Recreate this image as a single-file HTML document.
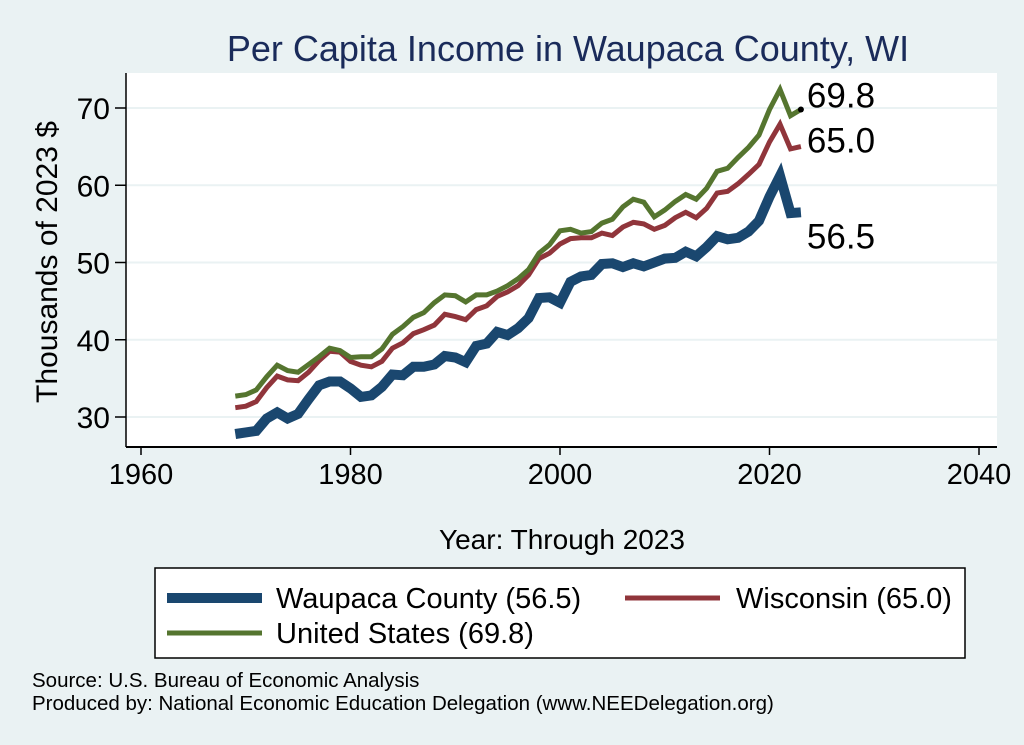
<!DOCTYPE html>
<html><head><meta charset="utf-8"><style>
body{margin:0;background:#eaf2f3;}
svg{display:block;font-family:"Liberation Sans",Arial,sans-serif;}
svg text{font-family:"Liberation Sans",Arial,sans-serif;}
</style></head><body>
<svg id="chart" width="1024" height="745" viewBox="0 0 1024 745">
<rect x="0" y="0" width="1024" height="745" fill="#eaf2f3"/>
<text x="568" y="61" text-anchor="middle" font-size="36" fill="#1a2b5a">Per Capita Income in Waupaca County, WI</text>
<rect x="126" y="73" width="871" height="374" fill="#fff"/>
<g id="grid"></g><g id="series"></g><g id="axes"></g>
<text transform="translate(57,262) rotate(-90)" text-anchor="middle" font-size="30" fill="#000">Thousands of 2023 $</text>
<text x="562" y="549" text-anchor="middle" font-size="28" fill="#000">Year: Through 2023</text>
<g>
<rect x="155" y="568" width="810" height="90" fill="#fff" stroke="#000" stroke-width="1.5"/>
<line x1="167" y1="598" x2="262" y2="598" stroke="#1a476f" stroke-width="10"/>
<text x="276" y="608" font-size="29">Waupaca County (56.5)</text>
<line x1="625" y1="598" x2="720" y2="598" stroke="#90353b" stroke-width="5"/>
<text x="736" y="608" font-size="29">Wisconsin (65.0)</text>
<line x1="167" y1="633" x2="262" y2="633" stroke="#55752f" stroke-width="5"/>
<text x="276" y="643" font-size="29">United States (69.8)</text>
</g>
<text x="32" y="687" font-size="20.5">Source: U.S. Bureau of Economic Analysis</text>
<text x="32" y="710" font-size="20.5">Produced by: National Economic Education Delegation (www.NEEDelegation.org)</text>
</svg>
<script>
const years=[];for(let y=1969;y<=2023;y++)years.push(y);
const usVals=[32.7,32.9,33.5,35.2,36.7,36.0,35.8,36.8,37.8,38.9,38.6,37.7,37.8,37.8,38.8,40.7,41.7,42.9,43.5,44.8,45.8,45.7,44.9,45.8,45.8,46.3,47.0,47.9,49.1,51.2,52.3,54.1,54.3,53.8,54.0,55.1,55.6,57.2,58.2,57.8,55.9,56.8,57.9,58.8,58.2,59.6,61.8,62.2,63.6,64.9,66.5,69.8,72.4,69.0,69.8];
const wiVals=[31.2,31.4,32.0,33.8,35.3,34.8,34.7,35.8,37.3,38.5,38.4,37.2,36.7,36.5,37.2,38.9,39.6,40.8,41.3,41.9,43.3,43.0,42.6,43.9,44.4,45.6,46.2,47.0,48.4,50.5,51.2,52.4,53.1,53.2,53.2,53.8,53.5,54.6,55.2,55.0,54.3,54.8,55.8,56.5,55.8,57.0,59.0,59.2,60.2,61.4,62.7,65.6,67.9,64.7,65.0];
const wpVals=[27.8,28.0,28.2,29.8,30.6,29.8,30.4,32.3,34.1,34.6,34.6,33.7,32.6,32.8,33.9,35.5,35.4,36.5,36.5,36.8,37.9,37.7,37.1,39.2,39.5,41.0,40.6,41.5,42.8,45.4,45.5,44.8,47.5,48.2,48.4,49.8,49.9,49.4,49.9,49.5,50.0,50.5,50.6,51.4,50.8,52.0,53.4,53.0,53.2,54.0,55.4,58.5,61.2,56.4,56.5];
const xTicks=[1960,1980,2000,2020,2040];
const yTicks=[30,40,50,60,70];
const NS='http://www.w3.org/2000/svg';
const X=v=>141+(v-1960)*(979-141)/80;
const Y=v=>417-(v-30)*(417-108)/40;
function mk(tag,attrs,parent){const e=document.createElementNS(NS,tag);for(const k in attrs)e.setAttribute(k,attrs[k]);parent.appendChild(e);return e;}
const grid=document.getElementById('grid'),axes=document.getElementById('axes'),ser=document.getElementById('series');
yTicks.forEach(t=>{
 const g=mk('line',{x1:126,x2:997,y1:Y(t),y2:Y(t),stroke:'#eaf2f3','stroke-width':2},grid);
 
 
 const tk=mk('line',{x1:115,x2:126,y1:Y(t),y2:Y(t),stroke:'#000','stroke-width':1.5},axes);
 
 
 const lb=mk('text',{x:110,y:Y(t)+11,'text-anchor':'end','font-size':30},axes);
 lb.textContent=String(t);
 
 
});
const ya=mk('line',{x1:126,x2:126,y1:73,y2:447,stroke:'#000','stroke-width':1.5},axes);


const xa=mk('line',{x1:126,x2:997,y1:447,y2:447,stroke:'#000','stroke-width':2},axes);


xTicks.forEach(t=>{
 const tk=mk('line',{x1:X(t),x2:X(t),y1:447,y2:455,stroke:'#000','stroke-width':1.5},axes);
 
 
 const lb=mk('text',{x:X(t),y:484,'text-anchor':'middle','font-size':29},axes);
 lb.textContent=t;
 
 
});
function line(vals,color,w,name){
 const d=vals.map((v,i)=>(i?'L':'M')+X(years[i]).toFixed(1)+','+Y(v).toFixed(1)).join('');
 const p=mk('path',{d:d,fill:'none',stroke:color,'stroke-width':w,'stroke-linejoin':'miter'},ser);
 
 
}
line(wpVals,'#1a476f',10,'line-waupaca');
line(wiVals,'#90353b',5,'line-wisconsin');
line(usVals,'#55752f',5,'line-us');
const n=years.length-1;
const dot=mk('circle',{cx:X(years[n]),cy:Y(usVals[n]),r:3,fill:'#000'},ser);


[[usVals,-2,'label-us'],[wiVals,6,'label-wisconsin'],[wpVals,36,'label-waupaca']].forEach(([v,dy,nm])=>{
 const t=mk('text',{x:X(years[n])+6,y:Y(v[n])+dy,'font-size':35},ser);
 t.textContent=v[n].toFixed(1);
 
 
});
</script>
</body></html>
